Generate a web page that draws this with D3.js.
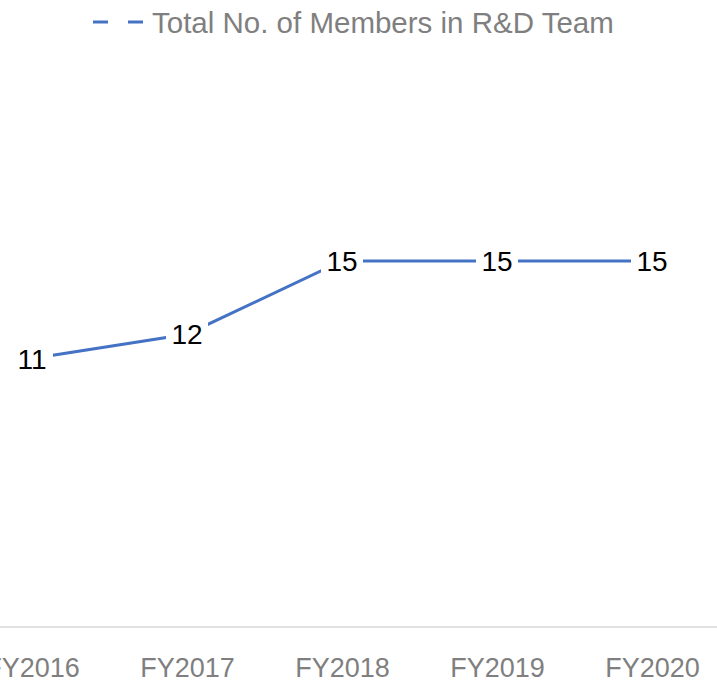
<!DOCTYPE html>
<html>
<head>
<meta charset="utf-8">
<script src="https://cdn.jsdelivr.net/npm/d3@7"></script>
<style>
  body { margin: 0; background: #fff; }
  svg { display: block; }
</style>
</head>
<body>
<div id="chart"></div>
<script>
const years = ["FY2016", "FY2017", "FY2018", "FY2019", "FY2020"];
const members = [11, 12, 15, 15, 15];
const seriesName = "Total No. of Members in R&D Team";

const width = 717;
const height = 680;
const lineColor = "#4472C4";
const font = "'Liberation Sans', Arial, sans-serif";

const svg = d3.select("#chart").append("svg")
  .attr("width", width)
  .attr("height", height);

// the chart is cropped on the left, so the band starts off-screen
const step = 155;
const xScale = d3.scalePoint()
  .domain(years)
  .range([32, 32 + step * (years.length - 1)]);

const yScale = d3.scaleLinear()
  .domain([0, 20])
  .range([627, 627 - 24.4 * 20]);

// category axis
const xAxis = d3.axisBottom(xScale).tickSize(0).tickPadding(31);
const axisG = svg.append("g")
  .attr("transform", "translate(0," + yScale(0) + ")")
  .call(xAxis);
axisG.select(".domain")
  .attr("d", "M" + (xScale(years[0]) - step / 2) + ",0H" + (xScale(years[years.length - 1]) + step / 2))
  .attr("stroke", "#d9d9d9")
  .attr("stroke-width", 1.5);
axisG.selectAll("text")
  .attr("fill", "#7f7f7f")
  .style("font-family", font)
  .style("font-size", "27px");

// the line
const line = d3.line()
  .x(function(d, i) { return xScale(years[i]); })
  .y(function(d) { return yScale(d); });

svg.append("path")
  .datum(members)
  .attr("fill", "none")
  .attr("stroke", lineColor)
  .attr("stroke-width", 3)
  .attr("d", line);

// data labels on white boxes
const labels = svg.append("g").selectAll("g")
  .data(members)
  .enter()
  .append("g")
  .attr("transform", function(d, i) {
    return "translate(" + xScale(years[i]) + "," + yScale(d) + ")";
  });

labels.append("rect")
  .attr("x", -21)
  .attr("y", -16)
  .attr("width", 42)
  .attr("height", 32)
  .attr("fill", "#fff");

labels.append("text")
  .attr("text-anchor", "middle")
  .attr("dy", "0.36em")
  .attr("fill", "#000")
  .style("font-family", font)
  .style("font-size", "28px")
  .text(function(d) { return d; });

// legend
const legend = svg.append("g").attr("transform", "translate(0,22)");
legend.append("line")
  .attr("x1", 93).attr("x2", 149)
  .attr("y1", 0).attr("y2", 0)
  .attr("stroke", lineColor)
  .attr("stroke-width", 3)
  .attr("stroke-dasharray", "15,20");
legend.append("text")
  .attr("x", 152)
  .attr("dy", "0.36em")
  .attr("fill", "#7f7f7f")
  .style("font-family", font)
  .style("font-size", "29.5px")
  .text(seriesName);
</script>
</body>
</html>
